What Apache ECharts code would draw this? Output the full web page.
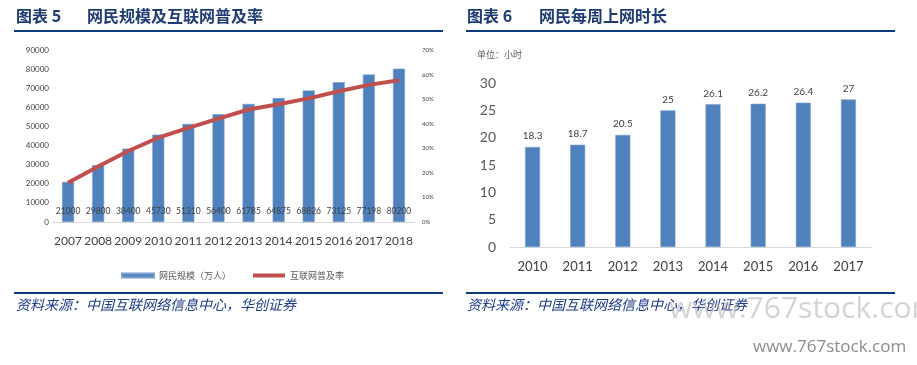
<!DOCTYPE html>
<html><head><meta charset="utf-8">
<script src="https://cdn.jsdelivr.net/npm/echarts@6/dist/echarts.min.js"></script>
<style>html,body{margin:0;padding:0;background:#fff}#c{width:917px;height:365px}</style>
</head><body><div id="c"></div>
<script>
// Left chart data
const yearsA = ['2007','2008','2009','2010','2011','2012','2013','2014','2015','2016','2017','2018'];
const netizens = [21000,29800,38400,45730,51310,56400,61785,64875,68826,73125,77198,80200];
const rate = [16,22.6,28.9,34.3,38.3,42.1,45.8,47.9,50.3,53.2,55.8,57.7];
const rateLabels = ['16%','22.60%','28.90%','34.30%','38.30%','42.10%','45.80%','47.90%','50.30%','53.20%','55.80%','57.70%'];
// Right chart data
const yearsB = ['2010','2011','2012','2013','2014','2015','2016','2017'];
const hours = [18.3,18.7,20.5,25,26.1,26.2,26.4,27];

const titleColor = '#1f3b73';
const ruleColor = '#0c3b7c';
const sansFont = 'Lato, "Noto Sans CJK SC", sans-serif';
const cjk = '"Noto Sans CJK SC", sans-serif';

const chart = echarts.init(document.getElementById('c'), null, {renderer:'canvas'});
chart.setOption({
  animation:false,
  backgroundColor:'#fff',
  grid:[
    {left:53, top:50, width:361, height:172},
    {left:510, top:83, width:361, height:164}
  ],
  legend:{
    left:116, top:266, itemGap:22, itemWidth:32, itemHeight:4,
    textStyle:{fontFamily:cjk, fontSize:9, color:'#595959'},
    data:[{name:'网民规模（万人）', icon:'rect', itemStyle:{color:'#4f81bd'}},
          {name:'互联网普及率', icon:'rect', itemStyle:{color:'#c0504d'}}]
  },
  xAxis:[
    {type:'category', gridIndex:0, data:yearsA,
     axisLine:{lineStyle:{color:'#d9d9d9'}}, axisTick:{show:false},
     axisLabel:{interval:0, color:'#404040', fontFamily:sansFont, fontSize:12, margin:13}},
    {type:'category', gridIndex:1, data:yearsB,
     axisLine:{lineStyle:{color:'#d9d9d9'}}, axisTick:{show:false},
     axisLabel:{interval:0, color:'#404040', fontFamily:sansFont, fontSize:13, margin:13}}
  ],
  yAxis:[
    {type:'value', gridIndex:0, min:0, max:90000, interval:10000,
     splitLine:{show:false}, axisLine:{show:false}, axisTick:{show:false},
     axisLabel:{color:'#404040', fontFamily:sansFont, fontSize:8, margin:4, formatter:v=>String(v)}},
    {type:'value', gridIndex:0, min:0, max:70, interval:10, position:'right',
     splitLine:{show:false}, axisLine:{show:false}, axisTick:{show:false},
     axisLabel:{color:'#404040', fontFamily:sansFont, fontSize:6, margin:8, formatter:'{value}%'}},
    {type:'value', gridIndex:1, min:0, max:30, interval:5,
     splitLine:{show:false}, axisLine:{show:false}, axisTick:{show:false},
     axisLabel:{color:'#595959', fontFamily:sansFont, fontSize:14, margin:14}}
  ],
  series:[
    {name:'网民规模（万人）', type:'bar', xAxisIndex:0, yAxisIndex:0, data:netizens, barWidth:12,
     itemStyle:{color:'#4f81bd', borderColor:'#7aa0d0', borderWidth:0.6},
     label:{show:true, position:'insideBottom', distance:6, color:'#404040', fontFamily:sansFont, fontSize:8.5}},
    {name:'互联网普及率', type:'line', xAxisIndex:0, yAxisIndex:1, data:rate, symbol:'none',
     lineStyle:{color:'#c0504d', width:4}, itemStyle:{color:'#c0504d'},
     label:{show:true, position:'top', distance:10, color:'#404040', fontFamily:sansFont, fontSize:10,
            formatter:p=>rateLabels[p.dataIndex]}},
    {name:'时长', type:'bar', xAxisIndex:1, yAxisIndex:2, data:hours, barWidth:15,
     itemStyle:{color:'#4f81bd', borderColor:'#7aa0d0', borderWidth:0.6},
     label:{show:true, position:'top', distance:6, color:'#404040', fontFamily:sansFont, fontSize:10}}
  ],
  graphic:[
    {type:'text', left:16, top:8, style:{text:'图表 5', font:'bold 16px "Noto Sans CJK SC"', fill:titleColor}},
    {type:'text', left:87, top:8, style:{text:'网民规模及互联网普及率', font:'bold 16px "Noto Sans CJK SC"', fill:titleColor}},
    {type:'rect', shape:{x:14, y:30, width:429, height:2}, style:{fill:ruleColor}},
    {type:'text', left:467, top:8, style:{text:'图表 6', font:'bold 16px "Noto Sans CJK SC"', fill:titleColor}},
    {type:'text', left:539, top:8, style:{text:'网民每周上网时长', font:'bold 16px "Noto Sans CJK SC"', fill:titleColor}},
    {type:'rect', shape:{x:466, y:30, width:429, height:2}, style:{fill:ruleColor}},
    {type:'text', left:477, top:50, style:{text:'单位：小时', font:'9px "Noto Sans CJK SC"', fill:'#595959'}},
    {type:'rect', shape:{x:14, y:292, width:429, height:2}, style:{fill:ruleColor}},
    {type:'rect', shape:{x:466, y:292, width:429, height:2}, style:{fill:ruleColor}},
    {type:'text', left:16, top:298, style:{text:'资料来源：中国互联网络信息中心，华创证券', font:'italic 14px "Noto Sans CJK SC"', fill:'#1f3b8a'}},
    {type:'text', left:467, top:298, style:{text:'资料来源：中国互联网络信息中心，华创证券', font:'italic 14px "Noto Sans CJK SC"', fill:'#1f3b8a'}},
    {type:'text', x:669, y:309, z:100, style:{text:'www.767stock.com', font:'30px "Open Sans"', fill:'rgba(170,170,170,0.5)', textVerticalAlign:'middle'}},
    {type:'text', left:753, top:339, style:{text:'www.767stock.com', font:'17px "Open Sans"', fill:'#8c8c8c'}}
  ]
});
</script></body></html>
